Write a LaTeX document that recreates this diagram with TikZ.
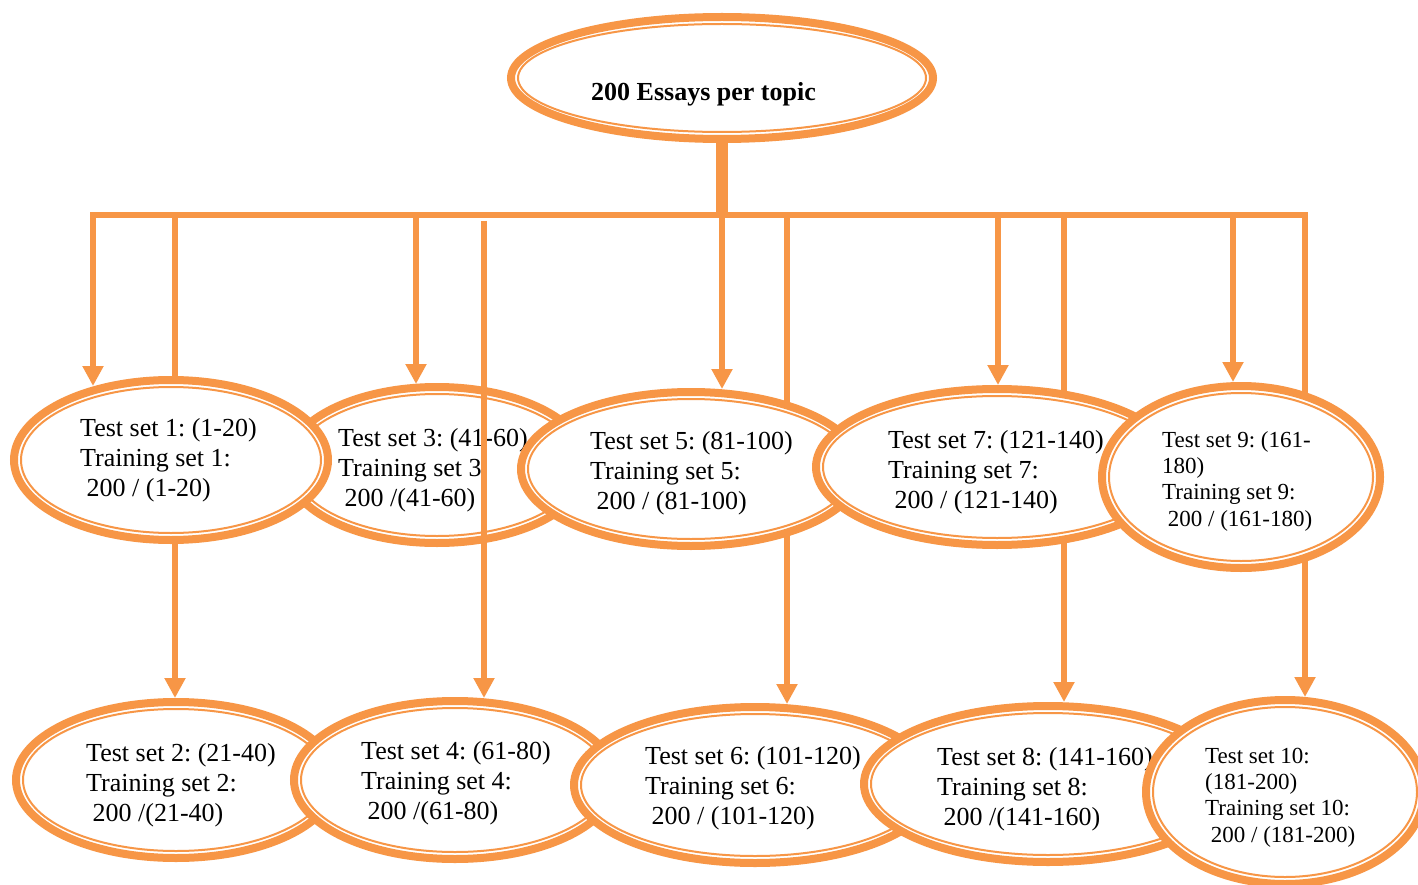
\documentclass[tikz,border=0pt]{standalone}
\usepackage{fontspec}
\setmainfont{Liberation Serif}
\usetikzlibrary{arrows.meta,shapes.geometric}
\definecolor{org}{RGB}{247,150,70}
\pgfdeclarelayer{background}
\pgfsetlayers{background,main}
\frenchspacing
\tikzset{
  ring/.style={ellipse, draw=org, line width=8pt, fill=white, inner sep=0pt, outer sep=0pt},
  innerring/.style={draw=org, line width=2pt},
  conn/.style={draw=org, line width=6pt},
  tipped/.style={conn, -{Triangle[length=20pt,width=20pt]}},
  txt/.style={anchor=base west, inner sep=0pt, font=\frenchspacing\fontsize{26}{30}\selectfont},
  smalltxt/.style={anchor=base west, inner sep=0pt, font=\frenchspacing\fontsize{23}{26.4}\selectfont},
}
\newcommand\myring[5]{%
  \node[ring, minimum width={2*(#4-4)}, minimum height={2*(#5-4)}] (#1) at (#2,#3) {};
  \draw[innerring] (#1.center) ellipse [x radius={(#4-11)*1pt}, y radius={(#5-11)*1pt}];
}
\newcommand\mylines[1]{\begin{tabular}[t]{@{}l@{}}#1\end{tabular}}
\begin{document}
\begin{tikzpicture}[x=1pt,y=-1pt]
\useasboundingbox (0,0) rectangle (1418,885);
\clip (0,0) rectangle (1418,885);
\begin{pgfonlayer}{background}
  \fill[white] (0,0) rectangle (1418,885);
\end{pgfonlayer}
% coordinates
\coordinate (stem) at (722,214);
\coordinate (bl) at (93,215);
\coordinate (br) at (1305,215);
\coordinate (b2) at (175,215);
\coordinate (b3) at (416,215);
\coordinate (b4) at (484,221);
\coordinate (b5) at (722,215);
\coordinate (b6) at (787,215);
\coordinate (b7) at (998,215);
\coordinate (b8) at (1064,215);
\coordinate (b9) at (1233,215);
\coordinate (t1) at (93,386);
\coordinate (t2) at (175,698);
\coordinate (t3) at (416,384);
\coordinate (t4) at (484,698);
\coordinate (t5) at (722,389);
\coordinate (t6) at (787,704);
\coordinate (t7) at (998,385);
\coordinate (t8) at (1064,702);
\coordinate (t9) at (1233,382);
\coordinate (t10) at (1305,697);

% top
\myring{top}{722}{78}{215}{65}
\node[txt, font=\frenchspacing\bfseries\fontsize{26}{30}\selectfont] (topt) at (591,101) {200 Essays per topic};

% top row
\myring{e3}{437}{465}{155}{82}
\node[txt] (e3t) at (338,446) {\mylines{Test set 3: (41-60)\\Training set 3:\\\ 200 /(41-60)}};
\myring{e1}{171}{460}{161}{84}
\node[txt] (e1t) at (80,436) {\mylines{Test set 1: (1-20)\\Training set 1:\\\ 200 / (1-20)}};
\myring{e5}{691}{469}{174}{81}
\node[txt] (e5t) at (590,449) {\mylines{Test set 5: (81-100)\\Training set 5:\\\ 200 / (81-100)}};
\myring{e7}{997}{467}{185}{82}
\node[txt] (e7t) at (888,448) {\mylines{Test set 7: (121-140)\\Training set 7:\\\ 200 / (121-140)}};
\myring{e9}{1241}{477}{143}{95}
\node[smalltxt] (e9t) at (1162,447) {\mylines{Test set 9: (161-\\180)\\Training set 9:\\\ 200 / (161-180)}};

% bottom row
\myring{e2}{176}{780}{164}{82}
\node[txt] (e2t) at (86,761) {\mylines{Test set 2: (21-40)\\Training set 2:\\\ 200 /(21-40)}};
\myring{e4}{455}{780}{165}{83}
\node[txt] (e4t) at (361,759) {\mylines{Test set 4: (61-80)\\Training set 4:\\\ 200 /(61-80)}};
\myring{e6}{755}{785}{185}{82}
\node[txt] (e6t) at (645,764) {\mylines{Test set 6: (101-120)\\Training set 6:\\\ 200 / (101-120)}};
\myring{e8}{1048}{784}{188}{82}
\node[txt] (e8t) at (937,765) {\mylines{Test set 8: (141-160)\\Training set 8:\\\ 200 /(141-160)}};
\myring{e10}{1285}{792}{143}{96}
\node[smalltxt] (e10t) at (1205,763) {\mylines{Test set 10:\\(181-200)\\Training set 10:\\\ 200 / (181-200)}};

% connectors under the ellipses
\begin{pgfonlayer}{background}
  \draw[org, line width=12pt] (top.south) -- (stem);
  \draw[conn, line join=miter, {Triangle[length=20pt,width=20pt]}-{Triangle[length=20pt,width=20pt]}] (t1) -- (bl) -- (br) -- (t10);
  \draw[tipped] (b2) -- (t2);
  \draw[tipped] (b3) -- (t3);
  \draw[tipped] (b5) -- (t5);
  \draw[tipped] (b6) -- (t6);
  \draw[tipped] (b7) -- (t7);
  \draw[tipped] (b8) -- (t8);
  \draw[tipped] (b9) -- (t9);
\end{pgfonlayer}
% connector drawn over ellipse 3
\draw[tipped] (b4) -- (t4);
\end{tikzpicture}
\end{document}
